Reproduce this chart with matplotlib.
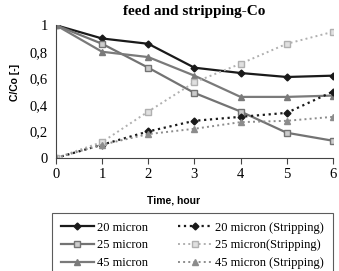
import matplotlib.pyplot as plt

time_h = [0, 1, 2, 3, 4, 5, 6]

feed_20 = [1.0, 0.90, 0.86, 0.68, 0.64, 0.61, 0.62]
feed_25 = [1.0, 0.86, 0.68, 0.49, 0.35, 0.19, 0.13]
feed_45 = [1.0, 0.80, 0.76, 0.62, 0.46, 0.46, 0.47]

strip_20 = [0.0, 0.10, 0.20, 0.28, 0.31, 0.34, 0.50]
strip_25 = [0.0, 0.12, 0.35, 0.57, 0.71, 0.86, 0.95]
strip_45 = [0.0, 0.10, 0.18, 0.22, 0.27, 0.28, 0.31]

yticks = [0, 0.2, 0.4, 0.6, 0.8, 1.0]
ytick_labels = ["0", "0,2", "0,4", "0,6", "0,8", "1"]

fig = plt.figure(figsize=(3.39, 2.71), dpi=100)
ax = fig.add_axes([0.165, 0.417, 0.817, 0.49])

ax.plot(time_h, feed_20, color="#1a1a1a", lw=1.6, marker="D", ms=3.5, label="20 micron")
ax.plot(time_h, feed_25, color="#737373", lw=1.6, marker="s", ms=5, mfc="#cccccc",
        mec="#737373", label="25 micron")
ax.plot(time_h, feed_45, color="#7a7a7a", lw=1.6, marker="^", ms=5, label="45 micron")

ax.plot(time_h, strip_20, color="#1a1a1a", lw=1.6, ls=":", marker="D", ms=3.5,
        label="20 micron (Stripping)")
ax.plot(time_h, strip_25, color="#b0b0b0", lw=1.4, ls=":", marker="s", ms=5, mfc="#e0e0e0",
        mec="#b0b0b0", label="25 micron(Stripping)")
ax.plot(time_h, strip_45, color="#8c8c8c", lw=1.4, ls=":", marker="^", ms=5,
        label="45 micron (Stripping)")

ax.set_xlim(0, 6)
ax.set_ylim(0, 1)
ax.set_xticks(time_h)
ax.set_xticklabels([str(t) for t in time_h], family="Liberation Serif", fontsize=10.5)
ax.set_yticks(yticks)
ax.set_yticklabels(ytick_labels, family="Liberation Serif", fontsize=10.5)
ax.spines["top"].set_visible(False)
ax.spines["right"].set_visible(False)
ax.spines["left"].set_color("#444444")
ax.spines["bottom"].set_color("#444444")
ax.tick_params(axis="y", length=0, pad=6)
ax.tick_params(axis="x", length=4, direction="out", color="#444444")

ax.set_xlabel("Time, hour", family="Liberation Sans", fontweight="bold", fontsize=7.5)
ax.xaxis.set_label_coords(0.426, -0.28)
ax.set_ylabel("C/Co [-]", family="Liberation Sans", fontweight="bold", fontsize=7.5)
ax.yaxis.set_label_coords(-0.13, 0.57)
ax.set_title("feed and stripping-Co", family="Liberation Serif", fontweight="bold",
             fontsize=11, pad=7)

leg = fig.legend(loc="upper left", bbox_to_anchor=(0.153, 0.214), ncol=2,
                 prop={"family": "Liberation Serif", "size": 9},
                 frameon=True, fancybox=False, edgecolor="#333333",
                 handlelength=2.7, columnspacing=2.4, labelspacing=0.45,
                 borderpad=0.7, handletextpad=0.25, borderaxespad=0)
leg.get_frame().set_linewidth(0.8)

fig.savefig("out.png", dpi=100)
